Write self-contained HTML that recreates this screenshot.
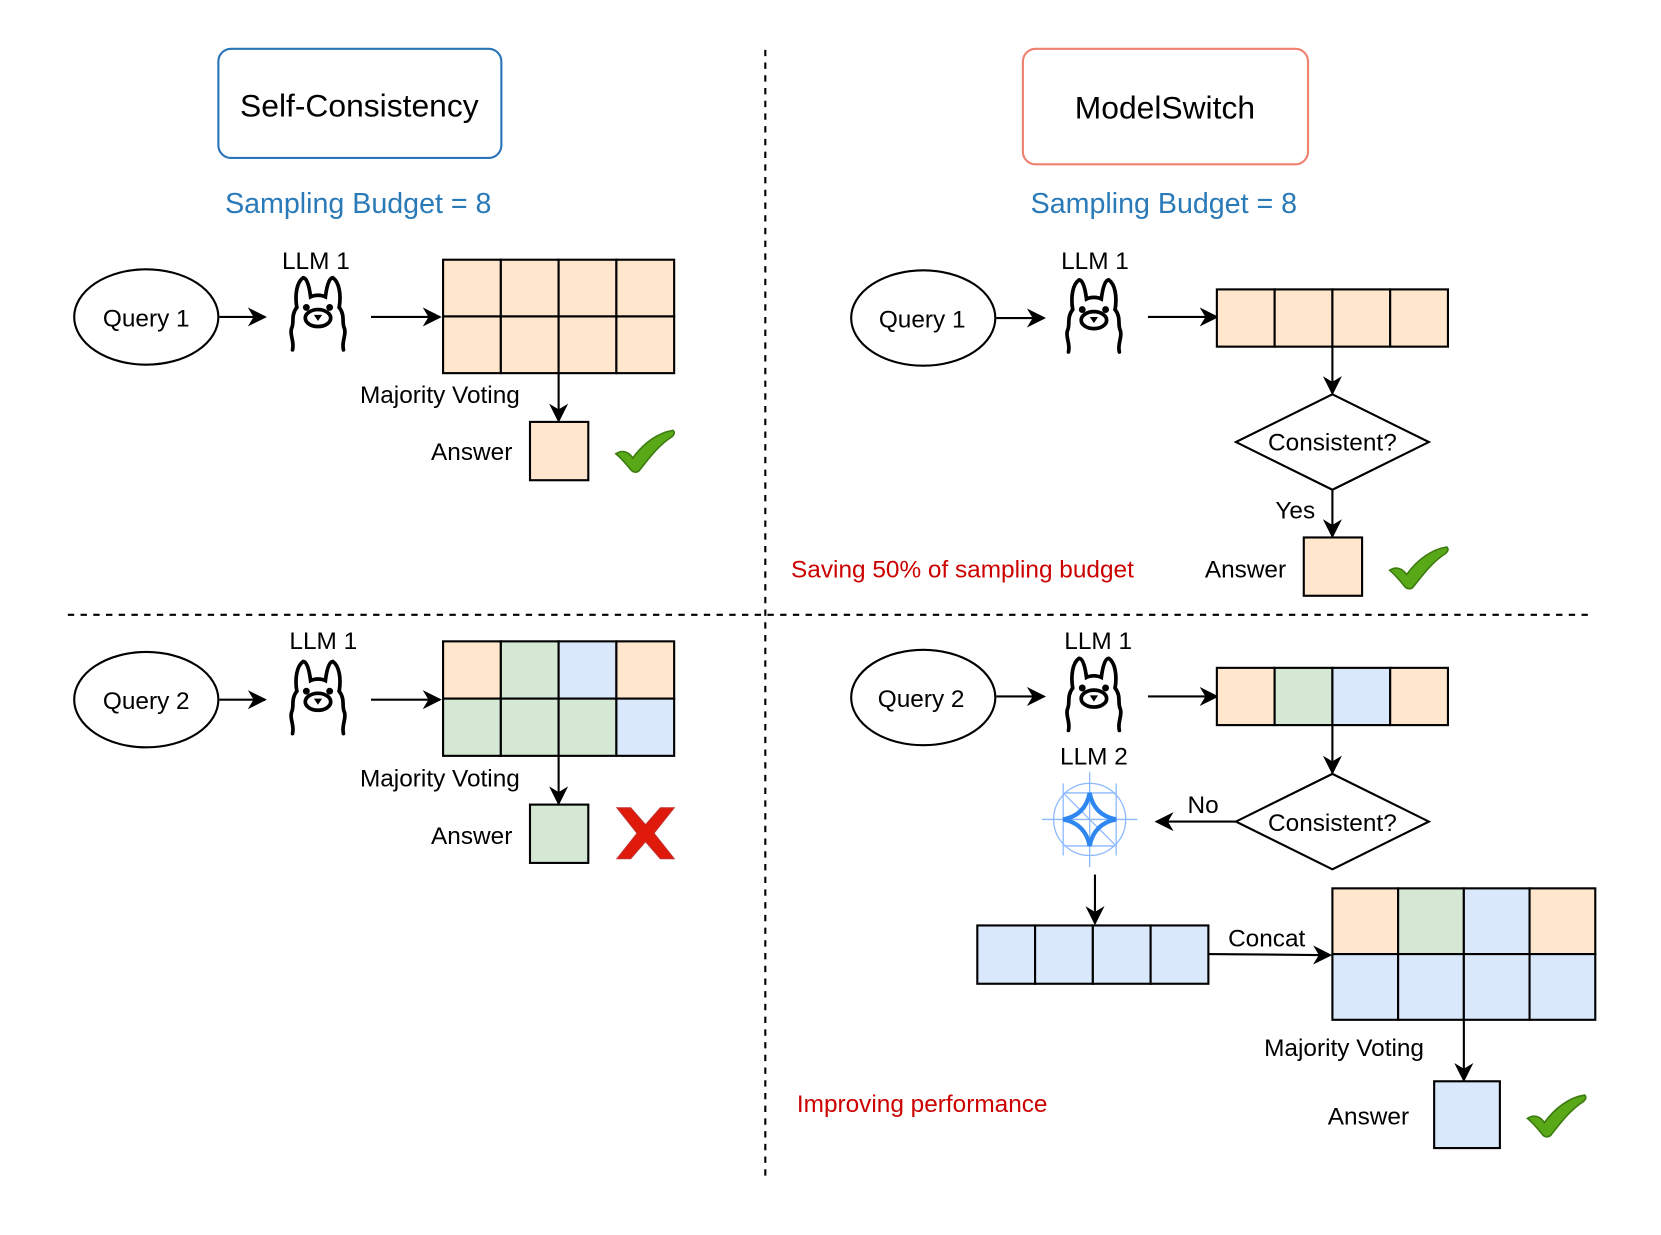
<!DOCTYPE html>
<html><head><style>html,body{margin:0;padding:0;background:#fff}svg{display:block}
text{font-family:"Comic Sans MS","Liberation Sans",sans-serif;fill:#000}</style></head>
<body>
<svg width="1661" height="1235" viewBox="0 0 1567 1165" preserveAspectRatio="none" xmlns="http://www.w3.org/2000/svg">
<defs>
<marker id="b" viewBox="0 0 10 10" refX="9" refY="5" markerWidth="18" markerHeight="18" markerUnits="userSpaceOnUse" orient="auto">
<path d="M0,0 L10,5 L0,10 L3,5 z" fill="#000"/></marker>
<g id="llama" fill="none" stroke="#000" stroke-width="3.5" stroke-linecap="round">
<path d="M-20,-8 C-22,-20 -20,-32 -14,-36 C-10,-36 -8,-26 -7,-18 C-3,-20 3,-20 7,-18 C8,-26 10,-36 14,-36 C20,-32 22,-20 20,-8"/>
<path d="M-20,-8 C-26,0 -22,6 -25,12 C-27,18 -22,24 -24,32"/>
<path d="M20,-8 C26,0 22,6 25,12 C27,18 22,24 24,32"/>
<ellipse cx="0" cy="2" rx="12" ry="8"/>
<circle cx="-11" cy="-8" r="1.5" fill="#000"/><circle cx="11" cy="-8" r="1.5" fill="#000"/>
<path d="M-2,0 L2,0 L0,3 z" fill="#000" stroke-width="2"/>
</g>
<path id="check" d="M0,22 C6,18 12,20 16,26 C26,12 40,2 54,0 C56,2 55,4 53,6 C40,14 30,28 22,38 C20,40 16,40 14,37 C10,32 6,27 0,22 z" fill="#59a818" stroke="#3d7a10" stroke-width="1.5"/>
</defs>

<line x1="722" y1="47" x2="722" y2="1115" stroke="#000" stroke-width="2" stroke-dasharray="6,6"/>
<line x1="64" y1="580" x2="1502" y2="580" stroke="#000" stroke-width="2" stroke-dasharray="6,6"/>

<rect x="206" y="46" width="267" height="103" rx="12" fill="#fff" stroke="#2a74b8" stroke-width="2"/>
<text x="339" y="110" font-size="30" text-anchor="middle">Self-Consistency</text>
<rect x="965" y="46" width="269" height="109" rx="12" fill="#fff" stroke="#f08070" stroke-width="2"/>
<text x="1099" y="112" font-size="30" text-anchor="middle">ModelSwitch</text>
<text x="338" y="201" font-size="27" text-anchor="middle" style="fill:#2a7ab8">Sampling Budget = 8</text>
<text x="1098" y="201" font-size="27" text-anchor="middle" style="fill:#2a7ab8">Sampling Budget = 8</text>

<g stroke="#000" stroke-width="2">
<ellipse cx="138" cy="299" rx="68" ry="45" fill="#fff"/>
<line x1="207" y1="299" x2="250" y2="299" marker-end="url(#b)"/>
<line x1="350" y1="299" x2="415" y2="299" marker-end="url(#b)"/>
<g fill="#ffe6cc">
<rect x="418" y="245" width="54.5" height="53.5"/><rect x="472.5" y="245" width="54.5" height="53.5"/><rect x="527" y="245" width="54.5" height="53.5"/><rect x="581.5" y="245" width="54.5" height="53.5"/>
<rect x="418" y="298.5" width="54.5" height="53.5"/><rect x="472.5" y="298.5" width="54.5" height="53.5"/><rect x="527" y="298.5" width="54.5" height="53.5"/><rect x="581.5" y="298.5" width="54.5" height="53.5"/>
</g>
<line x1="527" y1="352" x2="527" y2="397" marker-end="url(#b)"/>
<rect x="500" y="398" width="55" height="55" fill="#ffe6cc"/>

<ellipse cx="138" cy="660" rx="68" ry="45" fill="#fff"/>
<line x1="207" y1="660" x2="250" y2="660" marker-end="url(#b)"/>
<line x1="350" y1="660" x2="415" y2="660" marker-end="url(#b)"/>
<rect x="418" y="605" width="54.5" height="54" fill="#ffe6cc"/><rect x="472.5" y="605" width="54.5" height="54" fill="#d5e8d4"/><rect x="527" y="605" width="54.5" height="54" fill="#dae8fc"/><rect x="581.5" y="605" width="54.5" height="54" fill="#ffe6cc"/>
<rect x="418" y="659" width="54.5" height="54" fill="#d5e8d4"/><rect x="472.5" y="659" width="54.5" height="54" fill="#d5e8d4"/><rect x="527" y="659" width="54.5" height="54" fill="#d5e8d4"/><rect x="581.5" y="659" width="54.5" height="54" fill="#dae8fc"/>
<line x1="527" y1="713" x2="527" y2="758" marker-end="url(#b)"/>
<rect x="500" y="759" width="55" height="55" fill="#d5e8d4"/>

<ellipse cx="871" cy="300" rx="68" ry="45" fill="#fff"/>
<line x1="940" y1="300" x2="985" y2="300" marker-end="url(#b)"/>
<line x1="1083" y1="299" x2="1148" y2="299" marker-end="url(#b)"/>
<g fill="#ffe6cc"><rect x="1148" y="273" width="54.5" height="54"/><rect x="1202.5" y="273" width="54.5" height="54"/><rect x="1257" y="273" width="54.5" height="54"/><rect x="1311.5" y="273" width="54.5" height="54"/></g>
<line x1="1257" y1="327" x2="1257" y2="371" marker-end="url(#b)"/>
<polygon points="1257,372 1348,417 1257,462 1166,417" fill="#fff"/>
<line x1="1257" y1="462" x2="1257" y2="506" marker-end="url(#b)"/>
<rect x="1230" y="507" width="55" height="55" fill="#ffe6cc"/>

<ellipse cx="871" cy="658" rx="68" ry="45" fill="#fff"/>
<line x1="940" y1="657" x2="985" y2="657" marker-end="url(#b)"/>
<line x1="1083" y1="657" x2="1148" y2="657" marker-end="url(#b)"/>
<rect x="1148" y="630" width="54.5" height="54" fill="#ffe6cc"/><rect x="1202.5" y="630" width="54.5" height="54" fill="#d5e8d4"/><rect x="1257" y="630" width="54.5" height="54" fill="#dae8fc"/><rect x="1311.5" y="630" width="54.5" height="54" fill="#ffe6cc"/>
<line x1="1257" y1="684" x2="1257" y2="729" marker-end="url(#b)"/>
<polygon points="1257,730 1348,775 1257,820 1166,775" fill="#fff"/>
<line x1="1166" y1="775" x2="1091" y2="775" marker-end="url(#b)"/>
<line x1="1033" y1="825" x2="1033" y2="871" marker-end="url(#b)"/>
<g fill="#dae8fc"><rect x="922" y="873" width="54.5" height="55"/><rect x="976.5" y="873" width="54.5" height="55"/><rect x="1031" y="873" width="54.5" height="55"/><rect x="1085.5" y="873" width="54.5" height="55"/></g>
<line x1="1140" y1="900" x2="1255" y2="901" marker-end="url(#b)"/>
<rect x="1257" y="838" width="62" height="62" fill="#ffe6cc"/><rect x="1319" y="838" width="62" height="62" fill="#d5e8d4"/><rect x="1381" y="838" width="62" height="62" fill="#dae8fc"/><rect x="1443" y="838" width="62" height="62" fill="#ffe6cc"/>
<rect x="1257" y="900" width="62" height="62" fill="#dae8fc"/><rect x="1319" y="900" width="62" height="62" fill="#dae8fc"/><rect x="1381" y="900" width="62" height="62" fill="#dae8fc"/><rect x="1443" y="900" width="62" height="62" fill="#dae8fc"/>
<line x1="1381" y1="962" x2="1381" y2="1019" marker-end="url(#b)"/>
<rect x="1353" y="1020" width="62" height="63" fill="#dae8fc"/>
</g>

<use href="#llama" x="300" y="298"/>
<use href="#llama" x="300" y="660"/>
<use href="#llama" x="1032" y="300"/>
<use href="#llama" x="1032" y="657"/>

<g transform="translate(1028,773)">
<g stroke="#8ab8ff" stroke-width="1.2" fill="none">
<circle r="34"/><line x1="-45" y1="0" x2="45" y2="0"/><line x1="0" y1="-45" x2="0" y2="45"/>
<line x1="-24" y1="-25" x2="24" y2="-25"/><line x1="-24" y1="25" x2="24" y2="25"/>
<line x1="-25" y1="-34" x2="-25" y2="34"/><line x1="25" y1="-34" x2="25" y2="34"/>
<line x1="-25" y1="-25" x2="25" y2="25"/>
</g>
<path d="M0,-25 Q4,-4 25,0 Q4,4 0,25 Q-4,4 -25,0 Q-4,-4 0,-25 z" fill="none" stroke="#2e86f0" stroke-width="4"/>
</g>

<use href="#check" x="581" y="406"/>
<use href="#check" x="1311" y="516"/>
<use href="#check" x="1441" y="1033"/>
<g transform="translate(609,786)"><path d="M-27,-24 L-14,-24 L0,-8 L14,-24 L27,-24 L8,0 L27,24 L14,24 L0,8 L-14,24 L-27,24 L-8,0 z" fill="#e01a0a" stroke="#c03030" stroke-width="1"/></g>

<g font-size="23">
<text x="138" y="308" text-anchor="middle">Query 1</text>
<text x="138" y="669" text-anchor="middle">Query 2</text>
<text x="870" y="309" text-anchor="middle">Query 1</text>
<text x="869" y="667" text-anchor="middle">Query 2</text>
<text x="298" y="254" text-anchor="middle">LLM 1</text>
<text x="305" y="612" text-anchor="middle">LLM 1</text>
<text x="1033" y="254" text-anchor="middle">LLM 1</text>
<text x="1036" y="612" text-anchor="middle">LLM 1</text>
<text x="1032" y="721" text-anchor="middle">LLM 2</text>
<text x="415" y="380" text-anchor="middle">Majority Voting</text>
<text x="415" y="742" text-anchor="middle">Majority Voting</text>
<text x="1268" y="996" text-anchor="middle">Majority Voting</text>
<text x="445" y="434" text-anchor="middle">Answer</text>
<text x="445" y="796" text-anchor="middle">Answer</text>
<text x="1175" y="545" text-anchor="middle">Answer</text>
<text x="1291" y="1061" text-anchor="middle">Answer</text>
<text x="1257" y="425" text-anchor="middle">Consistent?</text>
<text x="1257" y="784" text-anchor="middle">Consistent?</text>
<text x="1222" y="489" text-anchor="middle">Yes</text>
<text x="1135" y="767" text-anchor="middle">No</text>
<text x="1195" y="893" text-anchor="middle">Concat</text>
<text x="908" y="545" text-anchor="middle" style="fill:#cc0000">Saving 50% of sampling budget</text>
<text x="870" y="1049" text-anchor="middle" style="fill:#cc0000">Improving performance</text>
</g>
</svg>
</body></html>
